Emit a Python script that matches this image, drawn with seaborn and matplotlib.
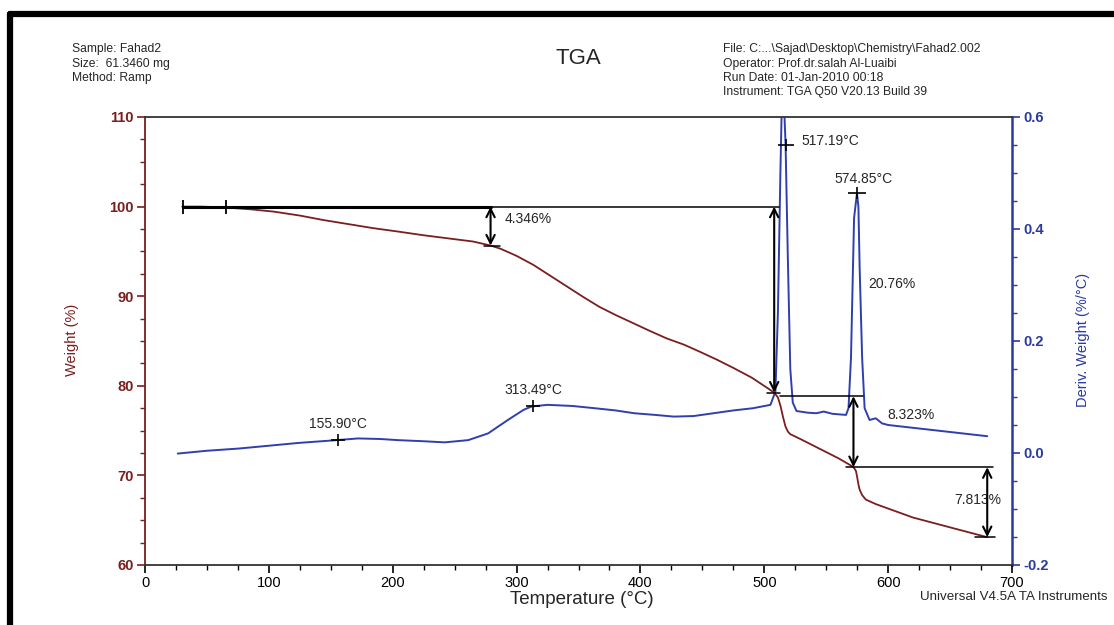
import numpy as np
import pandas as pd
import matplotlib
matplotlib.use("Agg")
import matplotlib.pyplot as plt
import seaborn as sns
from matplotlib.ticker import MultipleLocator
from matplotlib.lines import Line2D

# ---------------- data ----------------
temp_weight = [30, 45, 63, 85, 104, 125, 144, 164, 184, 205, 225, 245, 265, 279, 287, 300,
               313.5, 327, 340.5, 354, 367, 380, 394, 408, 421, 435, 448, 462, 475, 490, 502,
               508, 511, 513, 515, 517, 519, 521, 530, 540, 550, 560, 570, 572, 574, 575, 576,
               577, 579, 582, 590, 600, 620, 650, 680]
weight_pct = [100.0, 100.0, 99.92, 99.7, 99.44, 99.0, 98.5, 98.05, 97.6, 97.2, 96.8, 96.45, 96.1,
              95.654, 95.3, 94.5, 93.5, 92.3, 91.1, 89.9, 88.8, 87.9, 87.0, 86.1, 85.3, 84.6,
              83.8, 82.9, 82.0, 80.9, 79.8, 79.24, 78.7, 77.8, 76.6, 75.5, 74.9, 74.6, 74.0,
              73.3, 72.6, 71.9, 71.1, 70.917, 70.5, 69.8, 69.0, 68.4, 67.8, 67.3, 66.8, 66.3,
              65.3, 64.2, 63.104]

temp_deriv = [26.5, 50, 76, 100, 124, 155, 172, 190, 204, 225, 242, 261, 277, 293, 305.6, 312,
              325, 345, 363, 380, 395, 412, 427, 443, 459, 475, 491, 505, 509, 511, 513, 514.5,
              516, 517.2, 519, 521, 523, 526, 535, 542, 548, 555, 566, 568, 570, 572.5, 574.85,
              576, 577, 579, 581, 585, 590, 595, 600, 640, 680]
deriv_weight = [-0.001, 0.004, 0.008, 0.013, 0.018, 0.023, 0.026, 0.025, 0.023, 0.021, 0.019,
                0.023, 0.035, 0.059, 0.077, 0.083, 0.086, 0.084, 0.080, 0.076, 0.071, 0.068,
                0.065, 0.066, 0.071, 0.076, 0.080, 0.086, 0.11, 0.25, 0.50, 0.66, 0.62, 0.55,
                0.35, 0.15, 0.09, 0.075, 0.072, 0.071, 0.074, 0.070, 0.068, 0.08, 0.17, 0.42,
                0.464, 0.44, 0.33, 0.17, 0.08, 0.059, 0.062, 0.053, 0.050, 0.040, 0.030]

x_ticks = [0, 100, 200, 300, 400, 500, 600, 700]
weight_ticks = [60, 70, 80, 90, 100, 110]
deriv_ticks = [-0.2, 0.0, 0.2, 0.4, 0.6]

start_marks = [31, 65]
step_temps = [279, 508, 572, 680]
step_levels = [100.0, 95.654, 79.24, 70.917, 63.104]
step_labels = ["4.346%", "20.76%", "8.323%", "7.813%"]
peak_temps = [155.90, 313.49, 517.19, 574.85]
peak_labels = ["155.90°C", "313.49°C", "517.19°C", "574.85°C"]

header_left = ["Sample: Fahad2", "Size:  61.3460 mg", "Method: Ramp"]
header_right = ["File: C:...\\Sajad\\Desktop\\Chemistry\\Fahad2.002",
                "Operator: Prof.dr.salah Al-Luaibi",
                "Run Date: 01-Jan-2010 00:18",
                "Instrument: TGA Q50 V20.13 Build 39"]

# ---------------- style ----------------
sns.set_style("ticks")
plt.rcParams["font.family"] = ["Liberation Sans", "DejaVu Sans"]

RED = "#7a1e1e"
BLUE = "#2f3fae"
AXBLUE = "#2a3a9e"

W, H = 1114, 625
fig = plt.figure(figsize=(W / 100, H / 100), dpi=100)
fig.patch.set_facecolor("white")


def fx(px):
    return px / W


def fy(py):
    return 1 - py / H


ax = fig.add_axes([fx(145), fy(565), (1012 - 145) / W, (565 - 117) / H])
ax2 = ax.twinx()

df_w = pd.DataFrame({"Temperature": temp_weight, "Weight": weight_pct})
df_d = pd.DataFrame({"Temperature": temp_deriv, "Deriv": deriv_weight})

sns.lineplot(data=df_w, x="Temperature", y="Weight", ax=ax, color=RED, linewidth=1.3,
             estimator=None, sort=False, zorder=3)
sns.lineplot(data=df_d, x="Temperature", y="Deriv", ax=ax2, color=BLUE, linewidth=1.4,
             estimator=None, sort=False, zorder=3)

ax.set_xlim(0, 700)
ax.set_ylim(60, 110)
ax2.set_ylim(-0.2, 0.6)
ax.set_xticks(x_ticks)
ax.set_yticks(weight_ticks)
ax2.set_yticks(deriv_ticks)
ax.set_yticklabels([str(v) for v in weight_ticks])
ax2.set_yticklabels([f"{v:.1f}" for v in deriv_ticks])
ax.xaxis.set_minor_locator(MultipleLocator(25))
ax.yaxis.set_minor_locator(MultipleLocator(2.5))
ax2.yaxis.set_minor_locator(MultipleLocator(0.05))

ax.set_xlabel("")
ax.set_ylabel("")
ax2.set_ylabel("")

ax.tick_params(axis="x", which="major", direction="out", length=6, width=1.2, colors="black",
               labelsize=10.5, pad=2)
ax.tick_params(axis="x", which="minor", direction="out", length=3.5, width=1.0, colors="black")
ax.tick_params(axis="y", which="major", direction="out", length=6, width=1.2, colors=RED,
               labelsize=10.5, pad=2)
ax.tick_params(axis="y", which="minor", direction="out", length=3.5, width=1.0, colors=RED)
ax2.tick_params(axis="y", which="major", direction="out", length=6, width=1.2, colors=AXBLUE,
                labelsize=10.5, pad=2)
ax2.tick_params(axis="y", which="minor", direction="out", length=3.5, width=1.0, colors=AXBLUE)
for lab in ax.get_yticklabels():
    lab.set_fontweight("bold")
for lab in ax2.get_yticklabels():
    lab.set_fontweight("bold")

for s in ["top", "bottom"]:
    ax.spines[s].set_color("#333333")
    ax.spines[s].set_linewidth(1.3)
ax.spines["left"].set_color(RED)
ax.spines["left"].set_linewidth(1.3)
ax.spines["right"].set_visible(False)
for s in ["top", "bottom", "left"]:
    ax2.spines[s].set_visible(False)
ax2.spines["right"].set_visible(True)
ax2.spines["right"].set_color(AXBLUE)
ax2.spines["right"].set_linewidth(1.8)
ax.set_zorder(ax2.get_zorder() + 1)
ax.patch.set_visible(False)

# ---------------- step annotations (weight axis) ----------------
arrow_kw = dict(arrowstyle="<->", lw=1.5, color="black", shrinkA=0, shrinkB=0, mutation_scale=15)
lk = dict(color="black", zorder=4)
FS = 10

# baseline at 100 %
ax.plot([start_marks[0], step_temps[0]], [step_levels[0]] * 2, lw=2.2, **lk)
ax.plot([start_marks[0], 512], [step_levels[0]] * 2, lw=1.1, **lk)
ax.plot(start_marks, [step_levels[0]] * 2, ls="none", marker="|", ms=10, mew=1.3, **lk)

# 4.346 %
ax.annotate("", xy=(step_temps[0], step_levels[1]), xytext=(step_temps[0], step_levels[0]),
            arrowprops=arrow_kw, zorder=5)
ax.plot([274, 287], [step_levels[1]] * 2, lw=1.1, **lk)
ax.text(290, 98.6, step_labels[0], fontsize=FS, ha="left", va="center")

# 20.76 %
ax.annotate("", xy=(step_temps[1], step_levels[2]), xytext=(step_temps[1], step_levels[0]),
            arrowprops=arrow_kw, zorder=5)
ax.plot([502, 513], [step_levels[2]] * 2, lw=1.1, **lk)
ax.plot([513, 580], [step_levels[2] - 0.4] * 2, lw=1.1, **lk)
ax.text(584, 91.4, step_labels[1], fontsize=FS, ha="left", va="center")

# 8.323 %
ax.annotate("", xy=(step_temps[2], step_levels[3]), xytext=(step_temps[2], step_levels[2] - 0.4),
            arrowprops=arrow_kw, zorder=5)
ax.plot([566, 685], [step_levels[3]] * 2, lw=1.1, **lk)
ax.text(599, 76.7, step_labels[2], fontsize=FS, ha="left", va="center")

# 7.813 %
ax.text(653, 67.3, step_labels[3], fontsize=FS, ha="left", va="center", zorder=2)
ax.annotate("", xy=(step_temps[3], step_levels[4]), xytext=(step_temps[3], step_levels[3]),
            arrowprops=arrow_kw, zorder=5)
ax.plot([670, 686], [step_levels[4]] * 2, lw=1.1, **lk)

# ---------------- peak annotations (derivative axis) ----------------
peak_vals = np.interp(peak_temps, temp_deriv, deriv_weight)
h_sizes = [10, 10, 12, 13]
for t, v, hs in zip(peak_temps, peak_vals, h_sizes):
    ax2.plot([t], [v], marker="_", ms=hs, mew=1.2, color="black", zorder=6)
    ax2.plot([t], [v], marker="|", ms=9, mew=1.2, color="black", zorder=6)

ax2.text(peak_temps[0], peak_vals[0] + 0.028, peak_labels[0], fontsize=FS, ha="center", va="center")
ax2.text(peak_temps[1], peak_vals[1] + 0.03, peak_labels[1], fontsize=FS, ha="center", va="center")
ax2.text(530, 0.558, peak_labels[2], fontsize=FS, ha="left", va="center")
ax2.text(580, 0.489, peak_labels[3], fontsize=FS, ha="center", va="center")

# ---------------- header / labels ----------------
for i, line in enumerate(header_left):
    fig.text(fx(72), fy(49 + 14.5 * i), line, fontsize=8.7, ha="left", va="center")
for i, line in enumerate(header_right):
    fig.text(fx(723), fy(49 + 14.5 * i), line, fontsize=8.7, ha="left", va="center")
fig.text(fx(578), fy(58), "TGA", fontsize=16, ha="center", va="center")
fig.text(fx(582), fy(600), "Temperature (°C)", fontsize=13.5, ha="center", va="center")
fig.text(fx(1108), fy(597), "Universal V4.5A TA Instruments", fontsize=9.6, ha="right",
         va="center")
fig.text(fx(72), fy(340), "Weight (%)", fontsize=10.5, ha="center", va="center", rotation=90,
         color=RED)
fig.text(fx(1083), fy(340), "Deriv. Weight (%/°C)", fontsize=10.5, ha="center", va="center",
         rotation=90, color=AXBLUE)

# page frame
fig.add_artist(Line2D([fx(10), fx(1114)], [fy(14), fy(14)], color="black", lw=4.5))
fig.add_artist(Line2D([fx(10), fx(10)], [fy(14), fy(625)], color="black", lw=4.5))

fig.savefig("out.png", dpi=100, facecolor="white")
